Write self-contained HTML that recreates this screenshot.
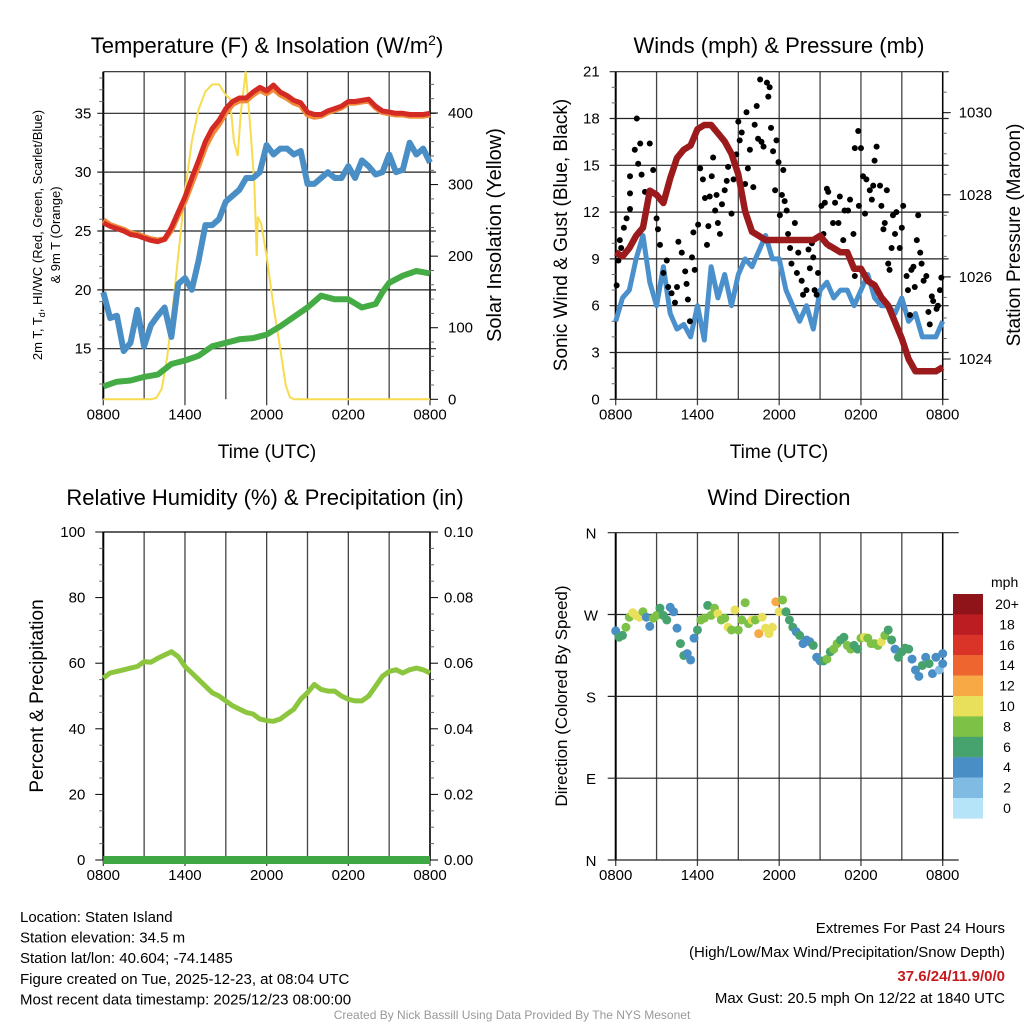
<!DOCTYPE html>
<html><head><meta charset="utf-8"><style>
body{margin:0;background:#fff}
svg{display:block;font-family:"Liberation Sans",sans-serif}
</style></head><body>
<svg id="s" width="1024" height="1024" viewBox="0 0 1024 1024">
<rect width="1024" height="1024" fill="#fff"/>
</svg>
<script>
// ---------- DATA ----------
const xTickLabels=["0800","1400","2000","0200","0800"];
const tHours=[0,0.5,1,1.5,2,2.5,3,3.5,4,4.5,5,5.5,6,6.5,7,7.5,8,8.5,9,9.5,10,10.5,11,11.5,12,12.5,13,13.5,14,14.5,15,15.5,16,16.5,17,17.5,18,18.5,19,19.5,20,20.5,21,21.5,22,22.5,23,23.5,24];
const tempRed=[25.7,25.4,25.2,25.0,24.7,24.6,24.4,24.2,24.1,24.3,25.3,26.6,27.9,29.5,31.0,32.6,33.7,34.4,35.4,36.0,36.3,36.3,36.8,37.2,36.9,37.4,36.8,36.5,36.1,35.9,35.1,34.9,34.9,35.2,35.4,35.6,36.0,36.0,36.1,36.2,35.6,35.2,35.1,35.0,35.0,34.9,34.9,34.9,35.0];
const temp9mOrange=[25.9,25.5,25.3,25.1,24.8,24.7,24.5,24.3,24.2,24.3,25.1,26.4,27.6,29.1,30.6,32.2,33.3,34.1,35.1,35.8,36.1,36.1,36.6,37.0,36.7,37.1,36.6,36.3,35.9,35.7,34.9,34.7,34.8,35.1,35.3,35.5,35.9,35.9,36.0,36.1,35.5,35.1,35.0,34.9,34.9,34.8,34.8,34.8,34.9];
const windChillBlue=[19.8,17.6,17.8,14.8,15.5,18.3,15.2,17.0,17.8,18.5,16.0,20.5,21.0,20.0,22.5,25.5,25.5,26.0,27.5,28.0,28.5,29.5,29.5,30.0,32.3,31.5,32.0,32.0,31.5,31.8,29.0,29.0,29.5,30.0,29.5,29.5,30.5,29.5,31.0,30.5,29.8,30.0,31.5,30.0,30.2,32.5,31.5,32.0,30.8];
const dewHours=[0,1,2,3,4,5,6,7,8,9,10,11,12,13,14,15,16,17,18,19,20,20.5,21,22,23,24];
const dewGreen=[11.8,12.2,12.3,12.6,12.8,13.7,14.0,14.4,15.2,15.5,15.8,15.9,16.2,16.9,17.7,18.5,19.5,19.2,19.2,18.5,18.8,19.8,20.6,21.2,21.6,21.4];
const solarHours=[0,3.5,3.9,4.3,4.7,5,5.5,6,6.5,7,7.5,8,8.5,9,9.3,9.6,9.87,10.1,10.46,10.8,11.1,11.27,11.35,11.6,12,12.5,13,13.4,13.7,14,24];
const solarVals=[0,0,2,15,60,110,200,290,360,405,430,440,440,425,420,360,340,400,458,380,300,200,255,245,200,130,70,20,3,0,0];
const windHours=tHours;
const windBlue=[5,6.5,7,9,10.5,7.5,6,8.5,5.5,4.5,4.8,4,6,3.8,8.5,6.5,8,6,8,9.0,8.5,9.5,10.5,9,9,7,6,5,6,4.5,7,7.5,6.5,7,7,6,7,8,6.5,6,6,5.5,6.5,5,5.5,4,4,4,5];
const pressMb=[1026.6,1026.5,1026.7,1027.0,1027.2,1028.1,1028.0,1027.8,1028.4,1028.9,1029.1,1029.2,1029.6,1029.7,1029.7,1029.5,1029.3,1029.0,1028.5,1027.6,1027.1,1027.0,1026.9,1026.9,1026.9,1026.9,1026.9,1026.9,1026.9,1026.9,1027.0,1026.8,1026.7,1026.6,1026.6,1026.2,1026.2,1025.9,1025.8,1025.5,1025.3,1024.9,1024.5,1024.0,1023.7,1023.7,1023.7,1023.7,1023.8];
const gustH=[0.07,0.2,0.4,0.3,0.6,0.8,1.05,1.05,1.05,1.4,1.55,1.65,1.8,1.9,2.15,2.5,2.75,3,3.1,3.25,3.5,3.75,3.85,4.1,4.35,4.5,4.6,4.85,5.1,5.2,5.3,5.45,5.6,5.7,5.8,6.05,6.2,6.4,6.55,6.7,6.8,6.9,7.05,7.15,7.3,7.4,7.5,7.65,7.8,8,8.15,8.25,8.5,8.65,8.85,9,9.1,9.25,9.5,9.6,9.7,9.85,10.1,10.2,10.35,10.45,10.6,10.7,10.85,11.1,11.2,11.3,11.4,11.55,11.7,11.8,11.95,12.05,12.2,12.3,12.4,12.55,12.65,12.8,12.9,13.15,13.3,13.4,13.65,13.75,14,14.15,14.25,14.4,14.5,14.6,14.75,14.85,15.1,15.25,15.35,15.5,15.6,15.7,15.95,16.1,16.35,16.45,16.7,16.8,17.05,17.2,17.45,17.55,17.8,17.55,17.85,18,18.15,18.3,18.4,18.65,18.8,18.9,19,19.15,19.4,19.5,19.65,19.75,19.9,20,20.1,20.25,20.35,20.5,20.6,20.85,21,21.1,21.35,21.45,21.6,21.7,21.85,21.95,22.1,22.2,22.35,22.45,22.6,22.8,22.95,23.05,23.2,23.3,23.55,23.65,23.8,23.9];
const gustV=[7.3,8.9,9.7,10.2,11,11.6,12.2,13.2,14.3,16,18,15.1,16.4,14.4,13.3,16.4,14.7,11.6,10.9,9.9,8.1,8.9,7.2,6.8,6.2,7.2,10.1,9.4,8.2,7.4,6.4,5.0,9.1,10.7,8.3,11.2,14.8,14.1,12.9,9.9,11.1,13,14.3,15.5,12.1,13.1,11.3,10.6,12.5,13.4,14,14.9,11.9,14.1,15.7,17.8,16.6,17.1,13.8,18.4,14.8,16,13.6,17.6,18.8,16.7,20.5,16.5,16.2,20.3,19.4,20,17.4,15.9,13.4,16.6,15.2,11.8,13.1,14.7,12.7,12.1,10.6,9.7,8.7,11.3,8.1,9.4,7.6,6.7,7,9.6,8.4,10,9.1,7,6.7,8.1,12.4,10.6,12.6,13.5,13.3,9.8,11.3,12.6,11.3,13,10.2,12.1,12.1,12.8,10.6,7.9,17.2,16.1,12.4,16.1,14.3,11.9,14.1,13.4,12.8,13.7,15.3,16.2,13.7,12.4,10.9,11.3,13.4,8.7,8.3,9.7,11.8,10.6,12,9.7,11,12.4,7.9,7,5.4,8.3,8.5,7.2,10.2,11.8,9.4,8.7,7.6,7.9,5.6,4.8,6.6,6.3,5.8,6,7,7.8];
const rhHours=tHours;
const rhVals=[55.5,57,57.5,58,58.5,59,60.5,60.3,61.5,62.5,63.5,62,59,57,55,53,51,50,48.5,47,46,45,44.5,43,42.5,42.3,43,44.5,46,49,51,53.5,52,51.5,51.5,50,49,48.5,48.5,50,53,56,57.5,58,57,58,58.5,58,57];
const precipVals=[0,0,0,0,0,0,0,0,0,0,0,0,0,0,0,0,0,0,0,0,0,0,0,0,0,0,0,0,0,0,0,0,0,0,0,0,0,0,0,0,0,0,0,0,0,0,0,0,0];
const dirHours=[0,0.25,0.5,0.75,1,1.25,1.5,1.75,2,2.25,2.5,2.75,3,3.25,3.5,3.75,4,4.25,4.5,4.75,5,5.25,5.5,5.75,6,6.25,6.5,6.75,7,7.25,7.5,7.75,8,8.25,8.5,8.75,9,9.25,9.5,9.75,10,10.25,10.5,10.75,11,11.25,11.5,11.75,12,12.25,12.5,12.75,13,13.25,13.5,13.75,14,14.25,14.5,14.75,15,15.25,15.5,15.75,16,16.25,16.5,16.75,17,17.25,17.5,17.75,18,18.25,18.5,18.75,19,19.25,19.5,19.75,20,20.25,20.5,20.75,21,21.25,21.5,21.75,22,22.25,22.5,22.75,23,23.25,23.5,23.75,24,24];
const dirDeg=[252,245,247,256,267,272,269,267,273,267,257,266,269,277,269,264,278,273,255,238,225,227,220,244,253,264,266,280,269,277,271,264,266,256,253,275,253,264,283,260,264,264,249,267,255,249,256,284,273,286,273,264,256,251,247,238,242,240,236,223,219,219,221,229,232,238,242,245,236,232,236,232,244,245,244,238,238,236,240,247,253,242,232,223,229,233,232,221,209,202,214,223,216,205,223,209,216,227];
const dirSpeed=[4,6,6,8,8,10,10,10,8,4,4,8,8,6,6,6,4,4,4,6,6,4,4,4,6,8,8,6,8,8,10,8,8,10,8,10,8,8,8,8,10,8,12,10,10,10,10,12,10,8,6,6,6,4,6,4,4,4,6,4,4,6,8,6,8,8,6,6,8,8,6,6,8,10,8,8,8,8,10,8,6,6,4,6,6,6,6,4,4,4,6,4,6,4,4,2,4,4];
const cbLabels=["20+","18","16","14","12","10","8","6","4","2","0"];
const cbColors=["#8e1419","#bb1d23","#da3428","#ef6530","#f6a945","#e8e05a","#7ec147","#47a36d","#4a8ec6","#80bbe3","#b5e3f7"];

// ---------- DRAW ----------
const NS="http://www.w3.org/2000/svg";
const svg=document.getElementById('s');
function el(tag,attrs,parent,text){const e=document.createElementNS(NS,tag);for(const k in attrs)e.setAttribute(k,attrs[k]);if(text!==undefined)e.textContent=text;(parent||svg).appendChild(e);return e;}
function lin(d0,d1,r0,r1){return v=>r0+(v-d0)*(r1-r0)/(d1-d0);}
function pathFrom(xs,ys,fx,fy){return xs.map((h,i)=>(i?'L':'M')+fx(h).toFixed(1)+','+fy(ys[i]).toFixed(1)).join('');}
function speedColor(s){let i=10-Math.min(10,Math.floor(s/2));return cbColors[i];}

function frame(g,L,R,T,B,fx){
  for(let h=0;h<=24;h+=3){const line=el('line',{x1:fx(h),x2:fx(h),y1:T,y2:B+(h%6===0?6:0),stroke:'#444','stroke-width':1.3},g);
    }
  xTickLabels.forEach((t,i)=>{const tx=el('text',{x:fx(i*6),y:B+20,'font-size':15,'text-anchor':'middle'},g,t);
    });
  el('line',{x1:L,x2:L,y1:T,y2:B,stroke:'#000','stroke-width':2},g);
  el('line',{x1:R,x2:R,y1:T,y2:B,stroke:'#000','stroke-width':1.5},g);
}
function hgrid(g,L,R,y,ext){const l=el('line',{x1:L-ext,x2:R+ext,y1:y,y2:y,stroke:'#222','stroke-width':1.2},g);
  }
function vtext(g,x,y,size,txt,name){const t=el('text',{x:x,y:y,'font-size':size,'text-anchor':'middle',transform:`rotate(-90 ${x} ${y})`},g,txt);
  return t;}

// ===== Panel 1: Temperature =====
(function(){
  const g=el('g',{});
  const L=103.3,R=430,T=71.7,B=399.3;
  const fx=lin(0,24,L,R),fy=lin(15,35,348.7,113.3),fs=lin(0,400,399.3,113);
  frame(g,L,R,T,B,fx);
  hgrid(g,L,R,T,0);
  [15,20,25,30,35].forEach(v=>{hgrid(g,L,R,fy(v),6);const t=el('text',{x:L-12,y:fy(v)+5,'font-size':15,'text-anchor':'end'},g,v);});
  for(let v=12;v<=38;v++){if(v%5)el('line',{x1:L-4,x2:L,y1:fy(v),y2:fy(v),stroke:'#666'},g);}
  [0,100,200,300,400].forEach(v=>{el('line',{x1:R,x2:R+8,y1:fs(v),y2:fs(v),stroke:'#000'},g);const t=el('text',{x:R+18,y:fs(v)+5,'font-size':15},g,v);});
  for(let v=20;v<=440;v+=20){if(v%100)el('line',{x1:R,x2:R+4,y1:fs(v),y2:fs(v),stroke:'#666'},g);}
  const ps=el('path',{d:pathFrom(solarHours,solarVals,fx,fs),fill:'none',stroke:'#f7dc50','stroke-width':2},g);
  const pb=el('path',{d:pathFrom(tHours,windChillBlue,fx,fy),fill:'none',stroke:'#4a8ec6','stroke-width':6,'stroke-linejoin':'round'},g);
  const pg=el('path',{d:pathFrom(dewHours,dewGreen,fx,fy),fill:'none',stroke:'#45ac45','stroke-width':6,'stroke-linejoin':'round'},g);
  const po=el('path',{d:pathFrom(tHours,temp9mOrange,fx,fy),fill:'none',stroke:'#f08a3a','stroke-width':6,'stroke-linejoin':'round'},g);
  const pr=el('path',{d:pathFrom(tHours,tempRed,fx,fy),fill:'none',stroke:'#d42a24','stroke-width':5,'stroke-linejoin':'round'},g);
  const tt=el('text',{x:267,y:53,'font-size':22,'text-anchor':'middle'},g);tt.innerHTML='Temperature (F) &amp; Insolation (W/m<tspan dy="-8" font-size="14">2</tspan><tspan dy="8">)</tspan>';
  const yl=el('text',{x:42,y:235,'font-size':13,'text-anchor':'middle',transform:'rotate(-90 42 235)'},g);yl.innerHTML='2m T, T<tspan dy="3" font-size="9">d</tspan><tspan dy="-3">, HI/WC (Red, Green, Scarlet/Blue)</tspan>';
  vtext(g,60,235,13,'& 9m T (Orange)','y-axis-title-line2');
  vtext(g,501,235,20,'Solar Insolation (Yellow)','right-axis-title');
  const xt=el('text',{x:267,y:458,'font-size':19,'text-anchor':'middle'},g,'Time (UTC)');
})();

// ===== Panel 2: Winds =====
(function(){
  const g=el('g',{});
  const L=615.7,R=942.7,T=71.7,B=399.3;
  const fx=lin(0,24,L,R),fy=lin(0,21,B,T),fp=lin(1024,1030,359,112.7);
  frame(g,L,R,T,B,fx);
  [0,3,6,9,12,15,18,21].forEach(v=>{hgrid(g,L,R,fy(v),6);const t=el('text',{x:L-16,y:fy(v)+5,'font-size':15,'text-anchor':'end'},g,v);});
  for(let v=1;v<21;v++){if(v%3)el('line',{x1:L-4,x2:L,y1:fy(v),y2:fy(v),stroke:'#666'},g);}
  [1024,1026,1028,1030].forEach(v=>{el('line',{x1:R,x2:R+8,y1:fp(v),y2:fp(v),stroke:'#000'},g);const t=el('text',{x:R+16,y:fp(v)+5,'font-size':15},g,v);});
  for(let v=1023.5;v<=1031;v+=0.5){if(v%2)el('line',{x1:R,x2:R+4,y1:fp(v),y2:fp(v),stroke:'#666'},g);}
  const pb=el('path',{d:pathFrom(windHours,windBlue,fx,fy),fill:'none',stroke:'#4a90cc','stroke-width':5,'stroke-linejoin':'round'},g);
  gustH.forEach((h,i)=>{const c=el('circle',{cx:fx(h),cy:fy(gustV[i]),r:3,fill:'#000'},g);
    });
  const pp=el('path',{d:pathFrom(tHours,pressMb,fx,fp),fill:'none',stroke:'#9b1b1d','stroke-width':6.5,'stroke-linejoin':'round'},g);
  const tt=el('text',{x:779,y:53,'font-size':22,'text-anchor':'middle'},g,'Winds (mph) & Pressure (mb)');
  vtext(g,567,235,19,'Sonic Wind & Gust (Blue, Black)','y-axis-title');
  vtext(g,1020,235,19,'Station Pressure (Maroon)','right-axis-title');
  const xt=el('text',{x:779,y:458,'font-size':19,'text-anchor':'middle'},g,'Time (UTC)');
})();

// ===== Panel 3: Humidity =====
(function(){
  const g=el('g',{});
  const L=103.3,R=430,T=532,B=860;
  const fx=lin(0,24,L,R),fy=lin(0,100,B,T),fpr=lin(0,0.1,B,T);
  frame(g,L,R,T,B,fx);
  el('line',{x1:L,x2:R,y1:T,y2:T,stroke:'#000','stroke-width':1.3},g);
  [0,20,40,60,80,100].forEach(v=>{el('line',{x1:L-8,x2:L,y1:fy(v),y2:fy(v),stroke:'#000'},g);const t=el('text',{x:L-18,y:fy(v)+5,'font-size':15,'text-anchor':'end'},g,v);});
  for(let v=5;v<100;v+=5){if(v%20)el('line',{x1:L-4,x2:L,y1:fy(v),y2:fy(v),stroke:'#666'},g);}
  [0,0.02,0.04,0.06,0.08,0.1].forEach(v=>{el('line',{x1:R,x2:R+8,y1:fpr(v),y2:fpr(v),stroke:'#000'},g);const t=el('text',{x:R+14,y:fpr(v)+5,'font-size':15},g,v.toFixed(2));});
  for(let v=0.005;v<0.1;v+=0.005){if(Math.round(v*1000)%20)el('line',{x1:R,x2:R+4,y1:fpr(v),y2:fpr(v),stroke:'#666'},g);}
  const pr=el('path',{d:pathFrom(rhHours,rhVals,fx,fy),fill:'none',stroke:'#8cc63f','stroke-width':5,'stroke-linejoin':'round'},g);
  const pp=el('path',{d:pathFrom(tHours,precipVals,fx,fpr),fill:'none',stroke:'#3fa744','stroke-width':8},g);
  const tt=el('text',{x:265,y:505,'font-size':22,'text-anchor':'middle'},g,'Relative Humidity (%) & Precipitation (in)');
  vtext(g,43,696,19,'Percent & Precipitation','y-axis-title');
})();

// ===== Panel 4: Wind Direction =====
(function(){
  const g=el('g',{});
  const L=615.7,R=942.7,T=532.7,B=860;
  const fx=lin(0,24,L,R),fy=lin(0,360,B,T);
  frame(g,L,R,T,B,fx);
  [[360,'N'],[270,'W'],[180,'S'],[90,'E'],[0,'N']].forEach(([v,s])=>{hgrid(g,L,R+8,fy(v),8);const t=el('text',{x:591,y:fy(v)+6,'font-size':15,'text-anchor':'middle'},g,s);});
  dirHours.forEach((h,i)=>{const c=el('circle',{cx:fx(h),cy:fy(dirDeg[i]),r:4.5,fill:speedColor(dirSpeed[i])},g);
    });
  const tt=el('text',{x:779,y:505,'font-size':22,'text-anchor':'middle'},g,'Wind Direction');
  vtext(g,567,696,17,'Direction (Colored By Speed)','y-axis-title');
  const leg=el('g',{},g);
  const mt=el('text',{x:991,y:587,'font-size':14},leg,'mph');
  cbLabels.forEach((lab,i)=>{const y=594+i*20.4;
    const r=el('rect',{x:953,y:y,width:30,height:20.6,fill:cbColors[i]},leg);
    const t=el('text',{x:1007,y:y+15,'font-size':14,'text-anchor':'middle'},leg,lab);});
})();

// ===== Footer =====
(function(){
  const g=el('g',{});
  ["Location: Staten Island","Station elevation: 34.5 m","Station lat/lon: 40.604; -74.1485","Figure created on Tue, 2025-12-23, at 08:04 UTC","Most recent data timestamp: 2025/12/23 08:00:00"].forEach((s,i)=>{
    const t=el('text',{x:20,y:922+i*20.6,'font-size':15},g,s);});
  const g2=el('g',{});
  [["Extremes For Past 24 Hours",933,'#000','normal'],["(High/Low/Max Wind/Precipitation/Snow Depth)",957,'#000','normal'],["37.6/24/11.9/0/0",981,'#c8191e','bold'],["Max Gust: 20.5 mph On 12/22 at 1840 UTC",1003,'#000','normal']].forEach(([s,y,c,w])=>{
    const t=el('text',{x:1005,y:y,'font-size':15,'text-anchor':'end',fill:c,'font-weight':w},g2,s);});
  const cr=el('text',{x:512,y:1019,'font-size':12,'text-anchor':'middle',fill:'#999'},svg,'Created By Nick Bassill Using Data Provided By The NYS Mesonet');
  
})();
</script>
</body></html>
